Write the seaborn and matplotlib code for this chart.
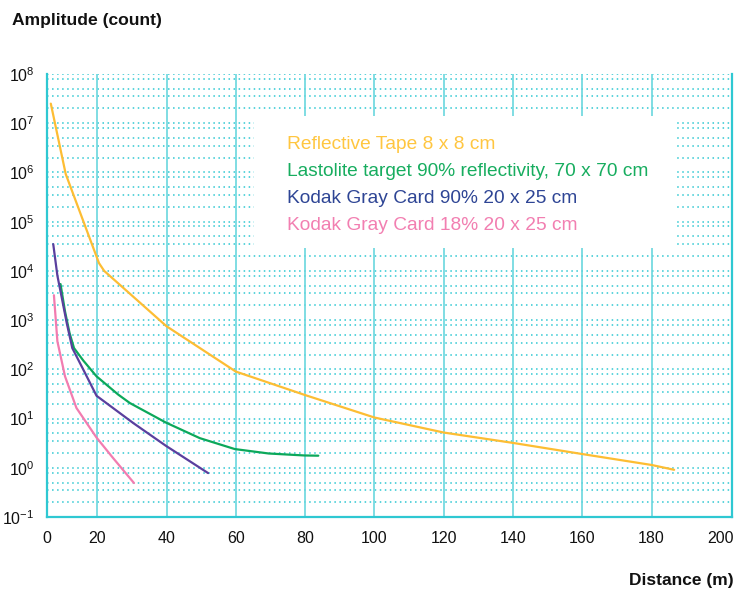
import numpy as np
import pandas as pd
import matplotlib
matplotlib.use("Agg")
import matplotlib.pyplot as plt
import seaborn as sns
from matplotlib.patches import Rectangle

# ---------------- data ----------------
series_names = [
    "Reflective Tape 8 x 8 cm",
    "Lastolite target 90% reflectivity, 70 x 70 cm",
    "Kodak Gray Card 90% 20 x 25 cm",
    "Kodak Gray Card 18% 20 x 25 cm",
]

tape_x = [6.6, 10.9, 20.5, 22.0, 40.0, 60.0, 80.0, 100.0, 120.0, 140.0, 160.0, 180.0, 186.5]
tape_y = [2.5e7, 9.3e5, 1.44e4, 1.0e4, 7.5e2, 90.0, 30.0, 10.5, 5.2, 3.2, 1.9, 1.14, 0.91]

lastolite_x = [9.4, 10.7, 12.0, 13.3, 16.0, 19.8, 26.1, 29.4, 39.8, 49.6, 59.7, 69.5, 79.7, 83.8]
lastolite_y = [5.4e3, 1.5e3, 5.5e2, 2.7e2, 1.5e2, 72.0, 30.5, 20.7, 8.3, 4.0, 2.4, 1.95, 1.78, 1.76]

kodak90_x = [7.3, 8.5, 9.7, 11.2, 12.8, 16.0, 19.8, 30.4, 39.8, 52.0]
kodak90_y = [3.5e4, 8.0e3, 3.0e3, 8.7e2, 2.7e2, 98.0, 29.0, 8.1, 2.8, 0.78]

kodak18_x = [7.5, 8.5, 10.7, 14.0, 19.8, 24.5, 30.6]
kodak18_y = [3.2e3, 3.7e2, 72.0, 16.4, 4.1, 1.6, 0.49]

x_tick_values = [0, 20, 40, 60, 80, 100, 120, 140, 160, 180, 200]
x_tick_labels = ["0", "20", "40", "60", "80", "100", "120", "140", "160", "180", "200"]
y_decades = [-1, 0, 1, 2, 3, 4, 5, 6, 7, 8]
y_tick_labels = [r"$10^{%d}$" % d for d in y_decades]
minor_steps = [2, 3.5, 5, 8]

line_colors = ["#FDBD33", "#0CA85A", "#5A3F9E", "#F27CB0"]
text_colors = ["#FFC640", "#17AD5F", "#2E4595", "#F27FB1"]

# ---------------- build table ----------------
frames = []
for name, xs, ys in zip(series_names,
                        [tape_x, lastolite_x, kodak90_x, kodak18_x],
                        [tape_y, lastolite_y, kodak90_y, kodak18_y]):
    frames.append(pd.DataFrame({"Distance": xs, "Amplitude": ys, "Target": name}))
df = pd.concat(frames, ignore_index=True)

# ---------------- style ----------------
sns.set_style("white")
plt.rcParams["font.family"] = ["Liberation Sans", "DejaVu Sans"]
plt.rcParams["mathtext.fontset"] = "custom"
plt.rcParams["mathtext.rm"] = "Liberation Sans"
plt.rcParams["mathtext.it"] = "Liberation Sans:italic"
plt.rcParams["mathtext.bf"] = "Liberation Sans:bold"

W, H = 748, 590
fig = plt.figure(figsize=(W / 100, H / 100), dpi=100)
ax_l, ax_r, ax_t, ax_b = 47, 732, 74, 517
ax = fig.add_axes([ax_l / W, (H - ax_b) / H, (ax_r - ax_l) / W, (ax_b - ax_t) / H])

x_left, x_right = 5.5, 203.2
ax.set_yscale("log")
ax.set_xlim(x_left, x_right)
ax.set_ylim(10.0 ** y_decades[0], 10.0 ** y_decades[-1])

grid_cyan = "#2FC8D2"
vline_cyan = "#6AD7DE"

# horizontal dotted grid
for d in y_decades:
    for m in [1] + minor_steps:
        v = m * 10.0 ** d
        if v > 10.0 ** y_decades[-1] * 1.0001:
            continue
        ax.axhline(v, color=grid_cyan, lw=1.1, ls=(0, (1, 2.3)), zorder=1)
# vertical solid grid
for v in x_tick_values[1:-1]:
    ax.axvline(v, color=vline_cyan, lw=1.2, zorder=1)

# legend background box
ax.add_patch(Rectangle(((254 - ax_l) / (ax_r - ax_l), (ax_b - 248) / (ax_b - ax_t)),
                       (675 - 254) / (ax_r - ax_l), (248 - 116) / (ax_b - ax_t),
                       transform=ax.transAxes, facecolor="white", edgecolor="none", zorder=2))

sns.lineplot(data=df, x="Distance", y="Amplitude", hue="Target",
             palette=dict(zip(series_names, line_colors)), hue_order=series_names,
             sort=False, estimator=None, lw=1.6, ax=ax, zorder=3)

# spines
for side in ["left", "bottom", "right"]:
    ax.spines[side].set_visible(True)
    ax.spines[side].set_color(grid_cyan)
    ax.spines[side].set_linewidth(1.6)
ax.spines["top"].set_visible(False)

# ticks
ax.set_xticks([max(v, x_left) for v in x_tick_values])
ax.set_xticklabels(x_tick_labels)
ax.set_yticks([10.0 ** d for d in y_decades])
ax.set_yticklabels(y_tick_labels)
ax.yaxis.set_minor_locator(matplotlib.ticker.NullLocator())
ax.tick_params(axis="both", length=0, labelsize=11.5, colors="#111111")
ax.tick_params(axis="x", pad=10)
ax.tick_params(axis="y", pad=9)
ax.set_xlabel("")
ax.set_ylabel("")

# legend as coloured text
handles, labels = ax.get_legend_handles_labels()
if ax.get_legend() is not None:
    ax.get_legend().remove()
leg = ax.legend(handles, labels, loc="upper left",
                bbox_to_anchor=((287 - ax_l) / (ax_r - ax_l), (ax_b - 136) / (ax_b - ax_t)),
                frameon=False, handlelength=0, handletextpad=0, borderpad=0,
                borderaxespad=0, labelspacing=0.49, fontsize=13.8)
for h in leg.legend_handles:
    h.set_visible(False)
for t, c in zip(leg.get_texts(), text_colors):
    t.set_color(c)

fig.text(12 / W, 1 - 20 / H, "Amplitude (count)", fontsize=12.6, fontweight="bold",
         ha="left", va="center", color="#111111")
fig.text(734 / W, 1 - 581 / H, "Distance (m)", fontsize=12.5, fontweight="bold",
         ha="right", va="center", color="#111111")

fig.savefig("out.png", dpi=100, facecolor="white")
